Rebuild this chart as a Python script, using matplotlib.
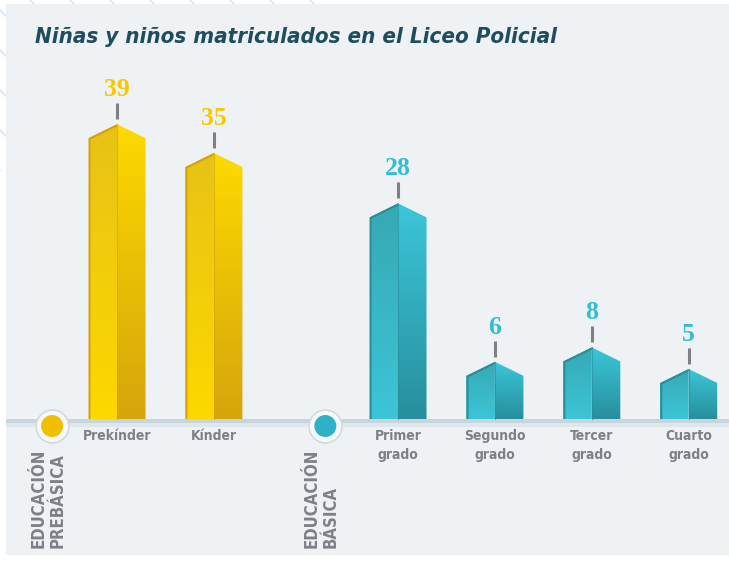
import numpy as np
import matplotlib.pyplot as plt
from matplotlib.patches import Polygon, Rectangle
from matplotlib.lines import Line2D
from matplotlib.colors import LinearSegmentedColormap

titulo = "Niñas y niños matriculados en el Liceo Policial"
categorias = ["Prekínder", "Kínder", "Primer\ngrado", "Segundo\ngrado",
              "Tercer\ngrado", "Cuarto\ngrado"]
valores = [39, 35, 28, 6, 8, 5]
niveles = ["prebasica", "prebasica", "basica", "basica", "basica", "basica"]
grupos = ["EDUCACIÓN\nPREBÁSICA", "EDUCACIÓN\nBÁSICA"]
grupo_nivel = ["prebasica", "basica"]

# ---------------------------------------------------------------- layout
W, H = 729, 561
pos = [0, 1, 2.9, 3.9, 4.9, 5.9]
pos_grupos = [-0.67, 2.15]
PX_X = 96.9     # px per category step
PX_Y = 7.2      # px per unit of value
BASE_PX = 419   # baseline row (px from top)
X0_PX = 117     # px of first bar centre

colores = {
    "prebasica": dict(izq_top="#e8c216", izq_bot="#fdd800", der_top="#fdd900",
                      der_bot="#d6a50c", borde="#d4a20c", texto="#f7c800",
                      punto="#f0bf00"),
    "basica": dict(izq_top="#36a9b4", izq_bot="#3cc5d7", der_top="#3cc6d9",
                   der_bot="#278f9d", borde="#2a8e9a", texto="#32bdd0",
                   punto="#2fb2c5"),
}
gris = "#7e8085"
condensed = ["DejaVu Sans Condensed", "DejaVu Sans"]


def dx(p):
    return p / PX_X


def dy(p):
    return p / PX_Y


def gradient_fill(ax, verts, top, bottom):
    poly = Polygon(verts, closed=True, facecolor="none", edgecolor="none")
    ax.add_patch(poly)
    xs = [p[0] for p in verts]
    ys = [p[1] for p in verts]
    cmap = LinearSegmentedColormap.from_list("g", [bottom, top])
    grad = np.linspace(0, 1, 256).reshape(-1, 1)
    im = ax.imshow(grad, cmap=cmap, origin="lower", aspect="auto", zorder=3,
                   extent=(min(xs), max(xs), min(ys), max(ys)))
    im.set_clip_path(poly)
    return poly


fig = plt.figure(figsize=(W / 100, H / 100), dpi=100)
fig.patch.set_facecolor("white")

# faint diagonal lines in the white top-left margin
for k in range(-170, 320, 40):
    fig.add_artist(Line2D([k / W, (k + 170) / W], [1, 1 - 170 / H],
                          color="#d3e9f2", lw=1.3, zorder=-3))
fig.add_artist(Rectangle((6 / W, 6 / H), 1 - 6 / W, 1 - 10 / H,
                         transform=fig.transFigure, facecolor="#eef2f5",
                         edgecolor="none", zorder=-2))

ax = fig.add_axes([0, 0, 1, 1])
ax.set_facecolor("none")
ax.axis("off")

# baseline band
ax.axhspan(dy(-4), 0, xmin=6 / W, color="#c9d5dd", zorder=1, lw=0)
ax.axhspan(dy(-8), dy(-4), xmin=6 / W, color="#e0e7ec", zorder=1, lw=0)

half = dx(28.5)
roof = dy(14)
for x, v, cat, nivel in zip(pos, valores, categorias, niveles):
    c = colores[nivel]
    left = [(x - half, 0), (x - half, v), (x, v + roof), (x, 0)]
    right = [(x, 0), (x, v + roof), (x + half, v), (x + half, 0)]
    pl = gradient_fill(ax, left, c["izq_top"], c["izq_bot"])
    gradient_fill(ax, right, c["der_top"], c["der_bot"])
    ln, = ax.plot([x - half, x - half, x], [0, v, v + roof], color=c["borde"],
                  lw=3, zorder=4)
    ln.set_clip_path(pl)
    ax.plot([x, x], [0, v + roof], color=c["borde"], lw=0.8, alpha=0.6, zorder=4)
    # tick + value label
    ax.plot([x, x], [v + roof + dy(5), v + roof + dy(21)], color=gris, lw=2.2,
            solid_capstyle="butt", zorder=4)
    ax.text(x, v + roof + dy(28), str(v), ha="center", va="baseline",
            fontsize=18.5, fontweight="bold", family="Liberation Serif",
            color=c["texto"])
    ax.text(x, dy(-10), cat, ha="center", va="top", fontsize=10,
            fontweight="bold", fontstretch="condensed", family=condensed,
            color=gris, linespacing=1.5)

for gx, g, nivel in zip(pos_grupos, grupos, grupo_nivel):
    ax.scatter([gx], [dy(-7)], s=560, color="#f6f8fa", edgecolor="#d2dae0",
               lw=1.2, zorder=5)
    ax.scatter([gx], [dy(-7)], s=250, color=colores[nivel]["punto"],
               edgecolor="none", zorder=6)
    ax.text(gx - dx(4), dy(-129), g, rotation=90, ha="center", va="bottom",
            multialignment="left", fontsize=12, fontweight="bold",
            fontstretch="condensed", family=condensed, color=gris,
            linespacing=1.05)

fig.text(35 / W, 1 - 43 / H, titulo, ha="left", va="baseline", fontsize=16,
         fontweight="bold", fontstyle="italic", fontstretch="condensed",
         family=condensed, color="#1d4d5e")

ax.set_xlim(-X0_PX / PX_X, (W - X0_PX) / PX_X)
ax.set_ylim(-(H - BASE_PX) / PX_Y, BASE_PX / PX_Y)

plt.savefig("out.png", dpi=100)
plt.close()
